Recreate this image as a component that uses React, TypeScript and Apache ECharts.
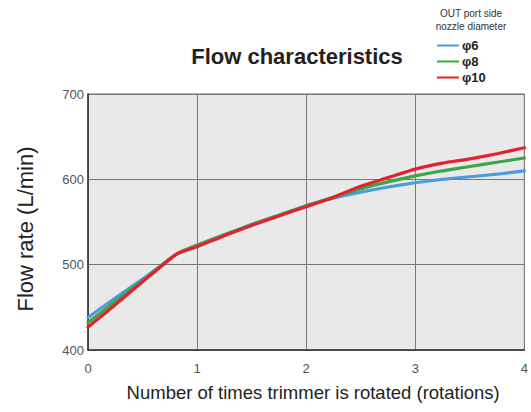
import React, { useEffect, useRef } from "react";
import * as echarts from "echarts";

const xValues = [0, 0.25, 0.5, 0.7, 0.82, 1, 1.25, 1.5, 1.75, 2, 2.25, 2.5, 2.75, 3, 3.25, 3.5, 3.75, 4];
const phi6 = [438, 461, 483, 502, 513, 522, 535, 547, 558, 569, 578, 585, 591, 596, 600, 603, 606, 610];
const phi8 = [432, 457, 481, 502, 513, 523, 535, 547, 558, 569, 579, 589, 597, 604, 610, 615, 620, 625];
const phi10 = [427, 453, 480, 501, 513, 521, 534, 546, 557, 568, 579, 592, 602, 612, 619, 624, 630, 637];
const seriesNames = ["φ6", "φ8", "φ10"];
const seriesColors = ["#4f9bd9", "#39a748", "#e3212f"];

const FONT = "Liberation Sans, Arial, sans-serif";

export default function App() {
  const ref = useRef<HTMLDivElement>(null);
  useEffect(() => {
    if (!ref.current) return;
    const chart = echarts.init(ref.current, undefined, { renderer: "svg" });
    const all = [phi6, phi8, phi10];
    chart.setOption({
      animation: false,
      backgroundColor: "#ffffff",
      title: [
        {
          text: "Flow characteristics",
          left: 292,
          top: 40,
          textAlign: "center",
          textStyle: { fontFamily: FONT, fontSize: 22, fontWeight: "bold", color: "#222" },
        },
        {
          text: "OUT port side\nnozzle diameter",
          left: 466,
          top: 2,
          textAlign: "center",
          textStyle: { fontFamily: FONT, fontSize: 10, fontWeight: "normal", color: "#333", lineHeight: 13 },
        },
      ],
      legend: {
        orient: "vertical",
        left: 432,
        top: 34,
        itemWidth: 22,
        itemHeight: 10,
        itemGap: 3,
        icon: "path://M0,4 L22,4 L22,6 L0,6 Z",
        textStyle: { fontFamily: FONT, fontSize: 13, fontWeight: "bold", color: "#222", padding: [0, 0, 0, -2] },
        data: seriesNames.map((n, i) => ({ name: n, itemStyle: { color: seriesColors[i] } })),
      },
      grid: {
        left: 88,
        right: 5,
        top: 94,
        bottom: 62,
        show: true,
        backgroundColor: "#e9e9e9",
        borderColor: "#666",
        borderWidth: 1,
      },
      xAxis: {
        type: "value",
        min: 0,
        max: 4,
        interval: 1,
        name: "Number of times trimmer is rotated (rotations)",
        nameLocation: "middle",
        nameGap: 33,
        nameTextStyle: { fontFamily: FONT, fontSize: 18.5, color: "#222", padding: [0, 0, 0, 14] },
        axisLine: { show: true, lineStyle: { color: "#333", width: 1.5 } },
        axisTick: { show: false },
        axisLabel: { fontFamily: FONT, fontSize: 13, color: "#555", margin: 12 },
        splitLine: { show: true, lineStyle: { color: "#7a7a7a", width: 1 } },
      },
      yAxis: {
        type: "value",
        min: 400,
        max: 700,
        interval: 100,
        name: "Flow rate (L/min)",
        nameLocation: "middle",
        nameGap: 52,
        nameTextStyle: { fontFamily: FONT, fontSize: 22, color: "#222", padding: [0, 0, 0, -14] },
        axisLine: { show: true, lineStyle: { color: "#333", width: 1.5 } },
        axisTick: { show: false },
        axisLabel: { fontFamily: FONT, fontSize: 13, color: "#555", margin: 4, verticalAlign: "middle" },
        splitLine: { show: true, lineStyle: { color: "#7a7a7a", width: 1 } },
      },
      series: seriesNames.map((n, i) => ({
        name: n,
        type: "line",
        smooth: 0.2,
        showSymbol: false,
        symbol: "none",
        z: 3 + i,
        lineStyle: { color: seriesColors[i], width: 3.2, join: "round", cap: "round" },
        itemStyle: { color: seriesColors[i] },
        data: xValues.map((x, j) => [x, all[i][j]]),
      })),
    });
    return () => chart.dispose();
  }, []);
  return <div ref={ref} style={{ width: 531, height: 412, position: "absolute", left: 0, top: 0 }} />;
}
